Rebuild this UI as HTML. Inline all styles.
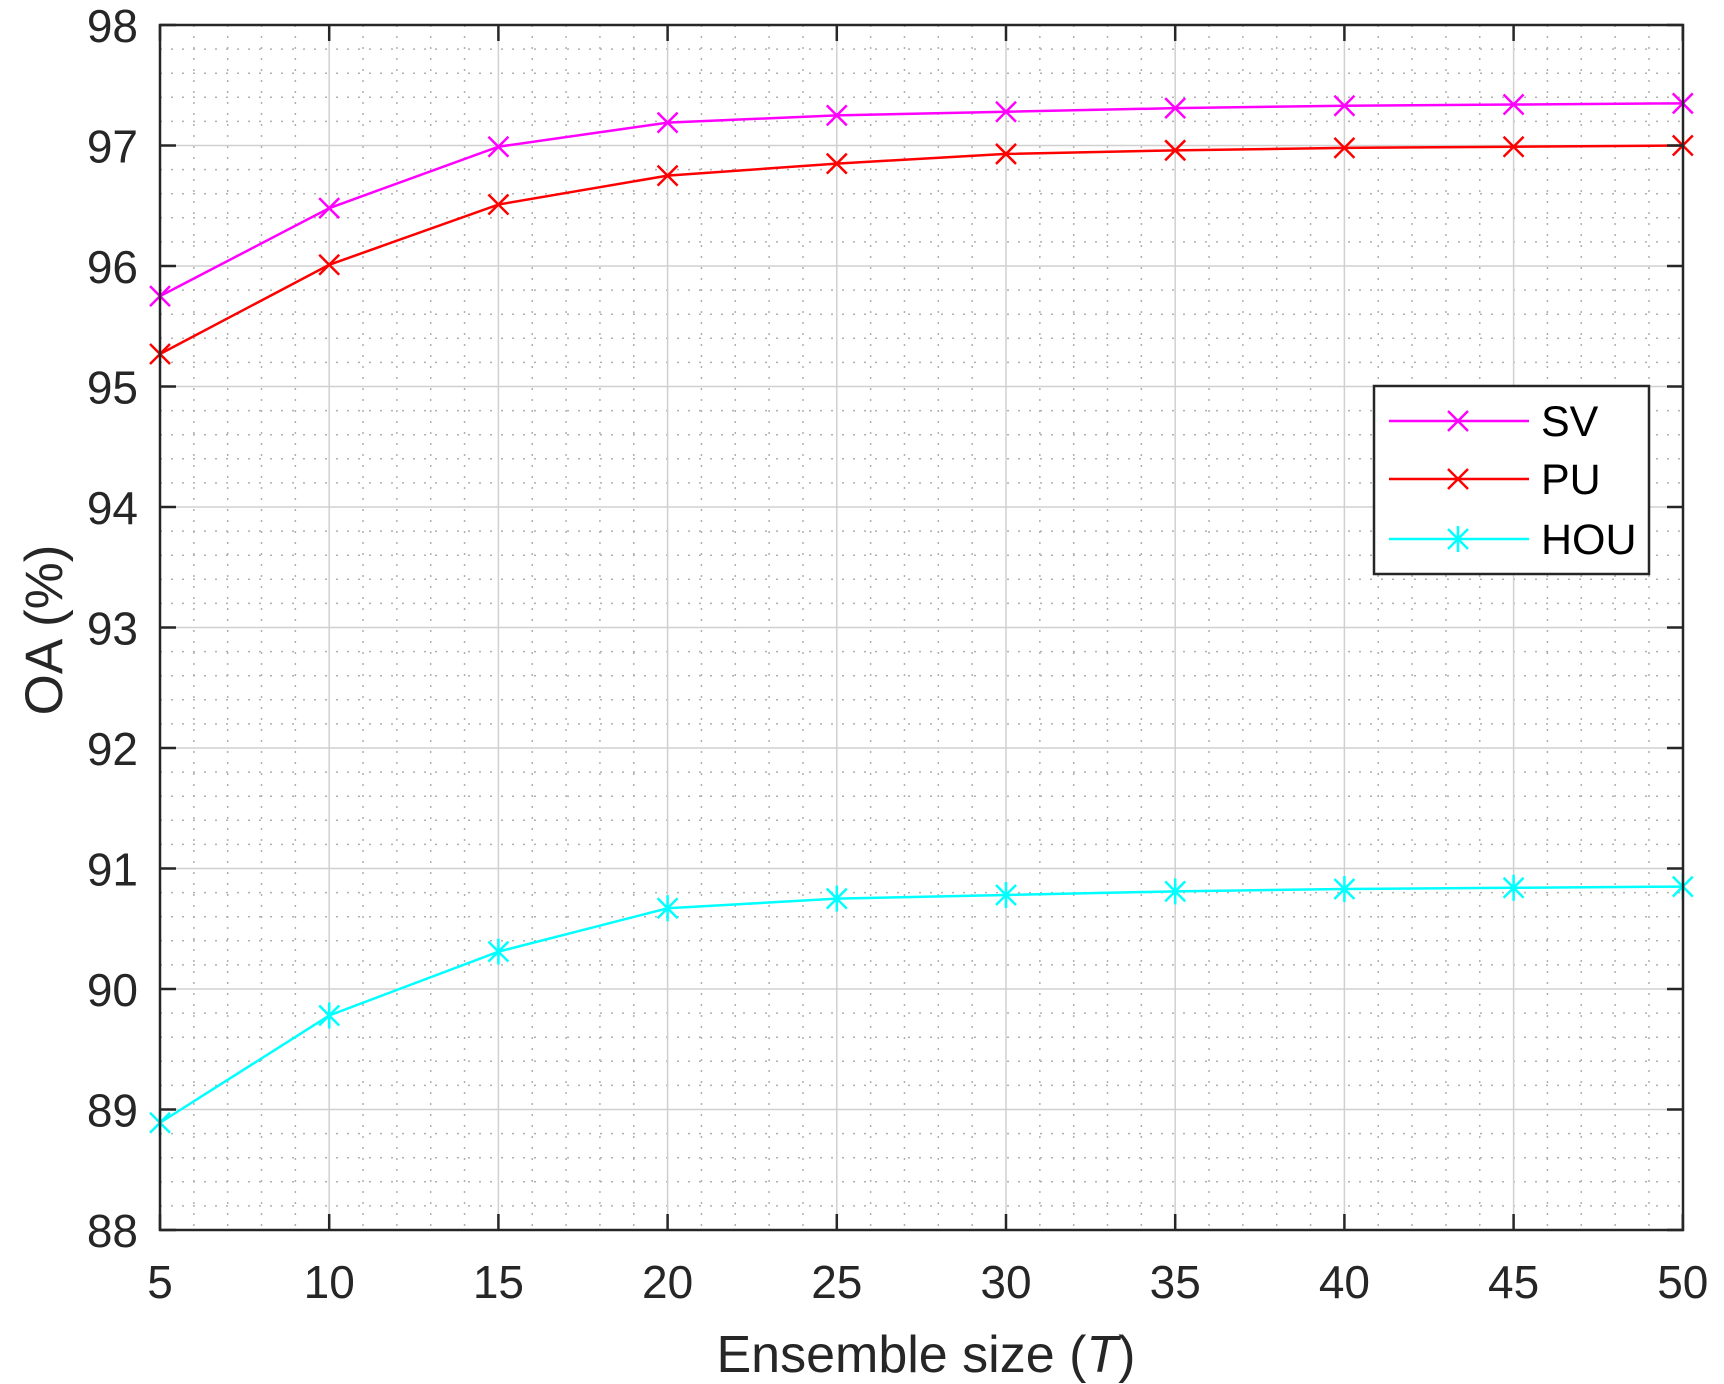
<!DOCTYPE html>
<html><head><meta charset="utf-8"><style>html,body{margin:0;padding:0;background:#fff}svg{display:block}</style></head>
<body>
<svg id="s" width="1724" height="1384" xmlns="http://www.w3.org/2000/svg" font-family="Liberation Sans, Arial, sans-serif">
<rect width="1724" height="1384" fill="#fff"/>
<g id="grid"></g>
<g id="data"></g>
<rect x="160" y="25" width="1523" height="1205" fill="none" stroke="#262626" stroke-width="2.5"/>
<g id="ticks"></g>
<g id="labels" fill="#262626" font-size="46"></g>
<text x="926" y="1372" font-size="52" fill="#262626" text-anchor="middle">Ensemble size (<tspan font-style="italic">T</tspan>)</text>
<text transform="translate(62,630) rotate(-90)" font-size="53" fill="#262626" text-anchor="middle">OA (%)</text>
<g id="legend">
<rect x="1374" y="386" width="275" height="188" fill="#fff" stroke="#262626" stroke-width="2.5"/>
</g>
</svg>
<script>
const NS="http://www.w3.org/2000/svg";
function el(p,t,a){const e=document.createElementNS(NS,t);for(const k in a)e.setAttribute(k,a[k]);p.appendChild(e);return e;}
const X=T=>160+(T-5)*169.2/5, Y=v=>25+(98-v)*120.5;
const g=document.getElementById('grid'),tk=document.getElementById('ticks'),lb=document.getElementById('labels');
for(let T=6;T<50;T++){if(T%5==0)continue;el(g,'line',{x1:X(T),x2:X(T),y1:25,y2:1230,stroke:'#b0b0b0','stroke-width':1.5,'stroke-dasharray':'2 9'});}
for(let i=1;i<50;i++){if(i%5==0)continue;const v=88+i*0.2;el(g,'line',{x1:160,x2:1683,y1:Y(v),y2:Y(v),stroke:'#b0b0b0','stroke-width':1.5,'stroke-dasharray':'2 9'});}
for(let T=10;T<50;T+=5)el(g,'line',{x1:X(T),x2:X(T),y1:25,y2:1230,stroke:'#d0d0d0','stroke-width':1.5});
for(let v=89;v<98;v++)el(g,'line',{x1:160,x2:1683,y1:Y(v),y2:Y(v),stroke:'#d0d0d0','stroke-width':1.5});
for(let T=5;T<=50;T+=5){const x=X(T);
 el(tk,'line',{x1:x,x2:x,y1:1230,y2:1214,stroke:'#262626','stroke-width':2.5});
 el(tk,'line',{x1:x,x2:x,y1:25,y2:41,stroke:'#262626','stroke-width':2.5});
 el(lb,'text',{x:x,y:1298,'text-anchor':'middle'}).textContent=T;}
for(let v=88;v<=98;v++){const y=Y(v);
 el(tk,'line',{x1:160,x2:176,y1:y,y2:y,stroke:'#262626','stroke-width':2.5});
 el(tk,'line',{x1:1683,x2:1667,y1:y,y2:y,stroke:'#262626','stroke-width':2.5});
 el(lb,'text',{x:138,y:y+17,'text-anchor':'end'}).textContent=v;}
const Ts=[5,10,15,20,25,30,35,40,45,50];
const S=[
 {c:'#ff00ff',m:'x',d:[95.75,96.48,96.99,97.19,97.25,97.28,97.31,97.33,97.34,97.35],n:'SV'},
 {c:'#ff0000',m:'x',d:[95.27,96.01,96.51,96.75,96.85,96.93,96.96,96.98,96.99,97.00],n:'PU'},
 {c:'#00ffff',m:'*',d:[88.89,89.78,90.31,90.67,90.75,90.78,90.81,90.83,90.84,90.85],n:'HOU'}];
const dg=document.getElementById('data'),lg=document.getElementById('legend');
function mark(p,x,y,c,m){const r=10;
 el(p,'line',{x1:x-r,y1:y-r,x2:x+r,y2:y+r,stroke:c,'stroke-width':2.5});
 el(p,'line',{x1:x-r,y1:y+r,x2:x+r,y2:y-r,stroke:c,'stroke-width':2.5});
 if(m=='*'){el(p,'line',{x1:x,y1:y-13,x2:x,y2:y+13,stroke:c,'stroke-width':2.5});}}
S.forEach((s,i)=>{
 el(dg,'polyline',{points:s.d.map((v,j)=>X(Ts[j])+','+Y(v)).join(' '),fill:'none',stroke:s.c,'stroke-width':2.5});
 s.d.forEach((v,j)=>mark(dg,X(Ts[j]),Y(v),s.c,s.m));
 const ly=[421,479,539][i];
 el(lg,'line',{x1:1389,x2:1529,y1:ly,y2:ly,stroke:s.c,'stroke-width':2.5});
 mark(lg,1458,ly,s.c,s.m);
 const t=el(lg,'text',{x:1541,y:ly+15,'font-size':43,fill:'#000'});t.textContent=s.n;
});
</script>
</body></html>
